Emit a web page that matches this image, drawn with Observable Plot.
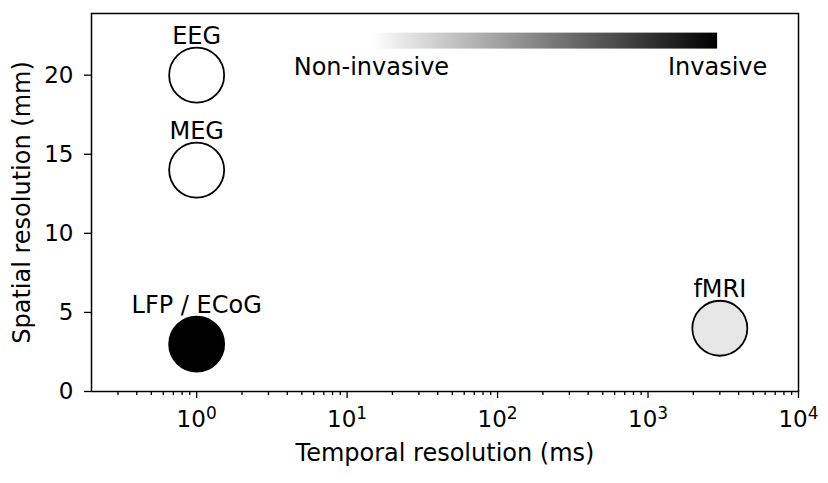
<!DOCTYPE html>
<html>
<head>
<meta charset="utf-8">
<script src="https://cdn.jsdelivr.net/npm/d3@7"></script>
<script src="https://cdn.jsdelivr.net/npm/@observablehq/plot@0.6"></script>
<style>
  html, body { margin: 0; padding: 0; background: #ffffff; }
  #chart svg { display: block; }
</style>
</head>
<body>
<div id="chart"></div>
<script>
// Recording methods: temporal vs spatial resolution, shaded by invasiveness
const methods = ["EEG", "MEG", "LFP / ECoG", "fMRI"];
const temporalMs = [1, 1, 1, 3000];
const spatialMm = [20, 14, 3, 4];
const invasiveness = [0, 0, 1, 0.1];

// Axis ticks (x labels are 10 raised to these exponents)
const xMajorTicks = [1, 10, 100, 1000, 10000];
const xTickExponents = ["0", "1", "2", "3", "4"];
const yTicks = [0, 5, 10, 15, 20];

// Invasiveness colour bar and its end labels
const barSpanMs = [14.5, 2900];
const barSpanMm = [21.65, 22.66];
const barLabels = ["Non-invasive", "Invasive"];

// Minor log ticks (2..9 per decade) inside the x domain
const xDomain = [0.2, 10000];
const xMinorTicks = [];
for (let e = -1; e < 4; e++) {
  for (let m = 2; m <= 9; m++) {
    const v = m * Math.pow(10, e);
    if (v > xDomain[0] && v < xDomain[1]) xMinorTicks.push(v);
  }
}

const exponentFor = new Map(xMajorTicks.map((t, i) => [t, xTickExponents[i]]));

// Gradient definition used to fill the colour bar
function gradientDefs() {
  const ns = "http://www.w3.org/2000/svg";
  const defs = document.createElementNS(ns, "defs");
  const lg = document.createElementNS(ns, "linearGradient");
  lg.setAttribute("id", "invasive-gradient");
  lg.setAttribute("x1", "0"); lg.setAttribute("x2", "1");
  lg.setAttribute("y1", "0"); lg.setAttribute("y2", "0");
  [["0%", "#ffffff"], ["100%", "#000000"]].forEach(([o, c]) => {
    const s = document.createElementNS(ns, "stop");
    s.setAttribute("offset", o);
    s.setAttribute("stop-color", c);
    lg.appendChild(s);
  });
  defs.appendChild(lg);
  return defs;
}

const chart = Plot.plot({
  width: 828,
  height: 483,
  marginLeft: 91,
  marginRight: 30,
  marginTop: 13,
  marginBottom: 92,
  style: {
    fontFamily: "'DejaVu Sans', sans-serif",
    fontSize: "23px",
    color: "#000000",
    background: "#ffffff"
  },
  x: { type: "log", domain: xDomain },
  y: { domain: [0, 23.9] },
  color: { type: "linear", domain: [0, 1], range: ["#ffffff", "#000000"] },
  marks: [
    gradientDefs,
    Plot.axisX(xMinorTicks, {
      tickSize: 4, strokeWidth: 1.3, tickFormat: () => "", label: null
    }),
    Plot.axisX(xMajorTicks, {
      tickSize: 7, tickPadding: 12, strokeWidth: 1.3,
      tickFormat: (d) => "10^" + exponentFor.get(d), label: null
    }),
    Plot.axisY(yTicks, {
      tickSize: 7, tickPadding: 11, strokeWidth: 1.3, label: null
    }),
    Plot.text(["Temporal resolution (ms)"], {
      frameAnchor: "bottom", dy: 61.5, lineAnchor: "middle", fontSize: 24
    }),
    Plot.text(["Spatial resolution (mm)"], {
      frameAnchor: "left", dx: -69.5, rotate: -90,
      lineAnchor: "middle", textAnchor: "middle", fontSize: 24
    }),
    Plot.rect([0], {
      x1: () => barSpanMs[0], x2: () => barSpanMs[1],
      y1: () => barSpanMm[0], y2: () => barSpanMm[1],
      fill: "url(#invasive-gradient)"
    }),
    Plot.text(barLabels, {
      x: barSpanMs, y: [barSpanMm[0], barSpanMm[0]],
      text: barLabels, dy: 18.5, lineAnchor: "middle", textAnchor: "middle",
      fontSize: 24
    }),
    Plot.dot(methods, {
      x: temporalMs, y: spatialMm, fill: invasiveness,
      r: 27.5, stroke: "#000000", strokeWidth: 1.8
    }),
    Plot.text(methods, {
      x: temporalMs, y: spatialMm, text: methods,
      dy: -39, lineAnchor: "middle", fontSize: 24
    }),
    Plot.frame({ stroke: "#000000", strokeWidth: 1.5 })
  ]
});

// Render "10^k" tick labels with a raised, smaller exponent
chart.querySelectorAll("text").forEach((t) => {
  const m = /^10\^(\d+)$/.exec(t.textContent);
  if (!m) return;
  t.textContent = "10";
  const sup = document.createElementNS("http://www.w3.org/2000/svg", "tspan");
  sup.setAttribute("font-size", "17px");
  sup.setAttribute("dy", "-7.5");
  sup.textContent = m[1];
  t.appendChild(sup);
});

document.getElementById("chart").appendChild(chart);
</script>
</body>
</html>
